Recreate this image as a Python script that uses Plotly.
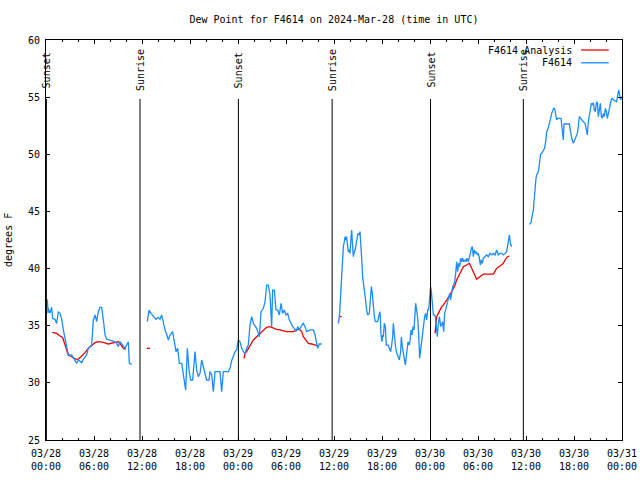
import plotly.graph_objects as go
import pandas as pd

start = pd.Timestamp("2024-03-28 00:00")
end = pd.Timestamp("2024-03-31 00:00")

# F4614 observations: hours since 2024-03-28 00:00 UTC, dew point in deg F (None = gap)
blue_hours = [
    0.17, 0.25, 0.29, 0.5, 0.71, 0.83, 1.13, 1.33, 1.54, 1.75, 1.96, 2.17, 2.38, 2.58, 2.79,
    3.21, 3.42, 3.83, 4.04, 4.46, 4.67, 5.08, 5.29, 5.5, 5.71, 5.92, 6.13, 6.33, 6.54, 6.75,
    6.96, 7.17, 7.38, 7.58, 8.0, 8.42, 8.83, 9.04, 9.25, 9.67, 9.88, 10.08, 10.29, 10.42, 10.71,
    None,
    12.67, 12.88, 13.13, 13.42, 13.75, 14.04, 14.25, 14.46, 14.67, 14.88, 15.08, 15.29, 15.5,
    15.83, 16.04, 16.25, 16.46, 16.67, 16.96, 17.25, 17.46, 17.67, 17.88, 18.08, 18.33, 18.63,
    18.83, 19.04, 19.25, 19.46, 19.67, 19.88, 20.08, 20.38, 20.5, 20.71, 20.92, 21.13, 21.75,
    21.96, 22.17, 22.79, 23.0, 23.21, 23.63, 23.83, 24.04, 24.25, 24.46, 24.67, 24.88, 25.08,
    25.29, 25.5, 25.71, 25.92, 26.13, 26.33, 26.54, 26.67, 26.88, 27.17, 27.38, 27.58, 27.79,
    28.0, 28.21, 28.33, 28.54, 28.75, 28.96, 29.17, 29.38, 29.58, 29.79, 30.0, 30.21, 30.42,
    30.63, 30.83, 31.04, 31.25, 31.46, 31.67, 31.88, 32.17, 32.38, 32.58, 33.0, 33.42, 33.63,
    33.83, 33.96, 34.17, 34.46,
    None,
    36.54, 36.67, 36.75, 36.88, 37.0, 37.08, 37.17, 37.29, 37.38, 37.5, 37.58, 37.71, 37.79,
    37.92, 38.0, 38.13, 38.21, 38.33, 38.42, 38.54, 38.63, 38.75, 38.83, 38.96, 39.04, 39.17,
    39.25, 39.38, 39.46, 39.58, 39.79, 39.92, 40.08, 40.21, 40.42, 40.54, 40.67, 40.79, 40.92,
    41.04, 41.17, 41.46, 41.58, 41.75, 41.88, 42.0, 42.08, 42.17, 42.29, 42.42, 42.54, 42.79,
    42.92, 43.08, 43.21, 43.33, 43.42, 43.54, 43.67, 43.79, 43.92, 44.04, 44.17, 44.33, 44.42,
    44.54, 44.67, 44.79, 44.92, 45.04, 45.17, 45.25, 45.38, 45.5, 45.63, 45.75, 45.88, 46.0,
    46.13, 46.21, 46.33, 46.46, 46.58, 46.71, 46.83, 46.96, 47.08, 47.21, 47.33, 47.46, 47.58,
    47.71, 47.83, 47.96, 48.08, 48.17, 48.29, 48.42, 48.54, 48.67, 48.79, 48.92, 49.04, 49.17,
    49.21, 49.33, 49.46, 49.58, 49.71, 49.83, 49.96, 50.08, 50.21, 50.33, 50.46, 50.58, 50.71,
    50.83, 50.96, 51.08, 51.21, 51.33, 51.46, 51.58, 51.71, 51.83, 51.96, 52.08, 52.21, 52.38,
    52.5, 52.63, 52.79, 52.92, 53.04, 53.17, 53.29, 53.42, 53.54, 53.67, 53.79, 53.92, 54.04,
    54.17, 54.29, 54.42, 54.54, 54.67, 54.88, 55.08, 55.29, 55.5, 55.71, 55.92, 56.13, 56.33,
    56.54, 56.75, 56.96, 57.17, 57.38, 57.58, 57.79, 57.92, 58.04, 58.21,
    None,
    60.42, 60.63, 60.75, 60.92, 61.0, 61.08, 61.17, 61.25, 61.33, 61.46, 61.58, 61.71, 61.83,
    61.96, 62.08, 62.21, 62.33, 62.46, 62.58, 62.71, 62.83, 62.96, 63.08, 63.21, 63.33, 63.46,
    63.58, 63.71, 63.83, 63.96, 64.38, 64.46, 64.58, 64.67, 64.75, 65.42, 65.5, 65.63, 65.75,
    65.92, 66.04, 66.21, 66.42, 66.54, 66.67, 66.83, 67.0, 67.17, 67.38, 67.5, 67.67, 67.79,
    67.92, 68.04, 68.17, 68.29, 68.42, 68.54, 68.67, 68.79, 68.92, 69.04, 69.17, 69.29, 69.42,
    69.54, 69.67, 69.79, 69.92, 70.04, 70.17, 70.29, 70.42, 70.54, 70.67, 70.79, 70.92, 71.33,
    71.46, 71.58, 71.71, 71.83, 71.96,
]
blue_vals = [
    37.3, 36.1, 36.5, 36.1, 36.6, 35.65, 35.56, 35.2, 36.23, 36.08, 35.56, 34.62, 33.75, 33.02, 32.44,
    32.44, 32.15, 31.71, 32.0, 31.77, 32.06, 32.44, 33.02, 33.17, 33.31, 35.5, 35.94, 35.35, 36.23, 36.6,
    36.6, 35.5, 34.19, 33.81, 33.75, 33.66, 33.46, 33.17, 33.6, 33.17, 33.02, 33.31, 33.6, 31.71, 31.62,
    None,
    35.35, 36.37, 36.08, 35.79, 35.56, 35.73, 35.56, 35.94, 35.21, 34.62, 34.27, 33.75, 34.19,
    34.48, 33.6, 32.73, 33.02, 31.71, 31.71, 30.25, 29.37, 33.02, 31.12, 30.25, 30.25, 32.73,
    31.12, 30.54, 30.83, 32.0, 31.42, 30.83, 30.25, 30.25, 30.98, 30.69, 29.23, 30.98, 30.98,
    29.23, 30.98, 30.98, 31.27, 31.95, 32.73, 32.87, 33.75, 33.6, 33.02, 32.73, 32.58, 33.02,
    33.31, 35.06, 35.79, 35.21, 34.92, 34.77, 34.33, 34.04, 36.23, 36.52, 37.1, 38.56, 38.56,
    37.69, 34.92, 38.12, 38.12, 36.38, 36.38, 35.94, 36.96, 36.08, 36.38, 35.94, 36.08, 35.5,
    35.21, 34.92, 34.77, 34.48, 34.92, 34.63, 34.92, 35.21, 34.92, 34.48, 34.63, 34.63, 34.19,
    33.31, 33.02, 33.4, 33.4,
    None,
    35.21, 35.79, 36.67, 38.42, 40.17, 41.19, 41.92, 42.35, 42.79, 42.5, 42.79, 41.92, 41.48,
    41.63, 41.33, 42.79, 43.37, 41.92, 41.04, 41.48, 41.63, 42.06, 42.65, 42.94, 43.08, 42.94,
    43.23, 42.06, 40.9, 39.29, 38.27, 37.4, 36.38, 35.94, 36.08, 37.83, 38.42, 37.83, 36.67,
    35.79, 35.35, 35.35, 35.79, 36.23, 34.19, 33.6, 34.19, 34.04, 35.21, 34.92, 33.31, 33.31,
    33.02, 32.73, 33.31, 34.04, 35.21, 34.04, 33.31, 32.73, 32.44, 32.15, 32.0, 32.73, 34.04,
    33.17, 32.44, 32.0, 31.56, 32.29, 33.31, 33.6, 33.31, 33.6, 34.63, 34.19, 34.92, 34.63,
    36.08, 36.96, 36.38, 35.65, 34.33, 32.15, 32.87, 33.75, 34.63, 35.21, 35.79, 36.08, 35.5,
    36.38, 36.38, 37.4, 38.42, 37.98, 37.25, 35.94, 35.94, 35.79, 34.92, 34.04, 35.21, 35.79,
    35.65, 34.92, 35.21, 35.35, 34.48, 36.08, 36.38, 36.81, 37.1, 37.4, 37.83, 37.25, 38.13,
    38.42, 38.56, 38.85, 39.58, 40.6, 39.73, 40.46, 40.17, 40.9, 40.6, 40.9, 40.6, 40.75,
    40.6, 40.9, 40.6, 40.9, 41.33, 41.77, 41.92, 41.04, 41.63, 41.33, 41.48, 41.19, 41.33,
    40.9, 40.31, 40.75, 40.46, 40.9, 41.04, 41.19, 41.04, 41.33, 41.19, 41.33, 41.19, 41.63,
    41.19, 41.33, 41.33, 41.19, 41.33, 41.48, 42.35, 42.94, 42.21, 41.92,
    None,
    43.87, 44.02, 44.54, 45.12, 45.85, 46.73, 47.46, 47.9, 48.19, 48.33, 48.63, 49.21, 50.02,
    50.08, 50.23, 50.38, 50.52, 51.1, 51.98, 52.13, 52.42, 52.71, 53.15, 53.58, 53.88, 54.02,
    54.02, 53.58, 53.0, 53.15, 53.15, 52.56, 51.83, 51.25, 52.65, 52.65, 52.27, 51.69, 51.31,
    50.96, 51.19, 51.48, 51.83, 52.42, 53.29, 53.15, 52.94, 52.85, 52.71, 52.18, 51.69, 52.85,
    53.58, 53.73, 54.46, 54.31, 54.52, 53.88, 53.73, 54.46, 54.6, 53.29, 54.17, 54.46, 53.29,
    53.15, 53.58, 53.29, 54.02, 53.73, 53.15, 53.58, 54.17, 54.46, 54.81, 54.9, 54.75, 54.6,
    55.33, 55.63, 55.19, 54.75, 55.04,
]

# F4614 Analysis
red_hours = [
    0.79, 1.33, 1.75, 2.08, 2.25, 2.5, 2.79, 3.21, 3.63, 4.04, 4.46, 4.88, 5.29, 5.71, 6.13,
    6.54, 7.17, 7.79, 8.21, 8.63, 9.04, 9.33, 9.67, 10.0,
    None,
    12.6, 13.0,
    None,
    24.75, 24.88, 25.08, 25.29, 25.5, 25.71, 25.92, 26.33, 26.75, 27.17, 27.58, 28.0, 28.42,
    28.83, 29.25, 29.67, 30.08, 30.92, 31.33, 31.67, 31.96, 32.17, 32.58, 32.79, 33.21, 33.63, 33.96,
    None,
    36.75, 36.96,
    None,
    48.63, 48.83, 49.04, 49.25, 49.46, 49.67, 50.08, 50.5, 50.92, 51.13, 51.33, 51.54, 51.75,
    51.96, 52.17, 52.58, 52.92, 53.21, 53.5, 53.83, 54.25, 54.67, 55.92, 56.13, 56.33, 56.75,
    57.17, 57.38, 57.67, 57.92,
]
red_vals = [
    34.42, 34.33, 34.1, 33.98, 33.6, 33.02, 32.44, 32.29, 32.09, 32.06, 32.35, 32.64, 33.02, 33.31, 33.52,
    33.6, 33.55, 33.4, 33.46, 33.57, 33.6, 33.37, 33.02, 32.96,
    None,
    33.02, 33.02,
    None,
    32.14, 32.58, 32.73, 33.02, 33.31, 33.6, 33.75, 34.04, 34.33, 34.63, 34.86, 34.92, 34.77,
    34.68, 34.63, 34.57, 34.48, 34.48, 34.63, 34.68, 34.48, 34.04, 33.6, 33.46, 33.4, 33.31, 33.23,
    None,
    35.79, 35.79,
    None,
    34.33, 35.79, 36.08, 36.38, 36.67, 36.81, 37.25, 37.69, 38.27, 38.56, 39.0, 39.29, 39.58,
    39.88, 40.17, 40.31, 40.46, 40.02, 39.58, 39.06, 39.29, 39.52, 39.52, 39.73, 40.02, 40.23,
    40.46, 40.75, 41.04, 41.1,
]

sun_times = ["2024-03-28 00:03", "2024-03-28 11:45", "2024-03-29 00:03",
             "2024-03-29 11:46", "2024-03-30 00:04", "2024-03-30 11:40"]
sun_labels = ["Sunset", "Sunrise", "Sunset", "Sunrise", "Sunset", "Sunrise"]

tick_hours = [0, 6, 12, 18, 24, 30, 36, 42, 48, 54, 60, 66, 72]
tick_labels = ["03/28<br>00:00", "03/28<br>06:00", "03/28<br>12:00", "03/28<br>18:00",
               "03/29<br>00:00", "03/29<br>06:00", "03/29<br>12:00", "03/29<br>18:00",
               "03/30<br>00:00", "03/30<br>06:00", "03/30<br>12:00", "03/30<br>18:00",
               "03/31<br>00:00"]

series_names = ["F4614 Analysis", "F4614"]
series_colors = ["#ee0000", "#1a8cff"]


def to_time(hours):
    return [None if h is None else start + pd.Timedelta(hours=h) for h in hours]


FONT = "DejaVu Sans Mono"
FIG_W, FIG_H = 640, 480

fig = go.Figure()
fig.add_trace(go.Scatter(x=to_time(red_hours), y=red_vals, mode="lines",
                         line=dict(color=series_colors[0], width=1.3),
                         connectgaps=False, name=series_names[0], showlegend=False))
fig.add_trace(go.Scatter(x=to_time(blue_hours), y=blue_vals, mode="lines",
                         line=dict(color=series_colors[1], width=1.3),
                         connectgaps=False, name=series_names[1], showlegend=False))

for t, lab in zip(sun_times, sun_labels):
    fig.add_shape(type="line", xref="x", yref="paper", x0=t, x1=t, y0=0, y1=0.8525,
                  line=dict(color="black", width=1))
    fig.add_annotation(x=t, xref="x", y=0.925, yref="paper", text=lab, textangle=-90,
                       showarrow=False, xanchor="center", yanchor="middle", xshift=1,
                       font=dict(family=FONT, size=10, color="black"))

# legend (text then sample, as in the original)
legend_y = [0.975, 0.943]
for name, col, ly in zip(series_names, series_colors, legend_y):
    fig.add_annotation(x=0.9167, xref="paper", y=ly, yref="paper", text=name,
                       showarrow=False, xanchor="right", yanchor="middle",
                       font=dict(family=FONT, size=10, color="black"))
    fig.add_shape(type="line", xref="paper", yref="paper", x0=0.929, x1=0.977,
                  y0=ly, y1=ly, line=dict(color=col, width=1.3))

fig.add_annotation(x=-0.066, xref="paper", y=0.5, yref="paper", text="degrees F",
                   textangle=-90, showarrow=False, xanchor="center", yanchor="middle",
                   font=dict(family=FONT, size=10, color="black"))

fig.update_layout(
    width=FIG_W, height=FIG_H,
    margin=dict(l=46, r=18, t=40, b=40, autoexpand=False),
    paper_bgcolor="white", plot_bgcolor="white",
    font=dict(family=FONT, size=10, color="black"),
    title=dict(text="Dew Point for F4614 on 2024-Mar-28 (time in UTC)",
               x=0.5218, xanchor="center", y=1 - 19 / FIG_H, yanchor="middle",
               font=dict(family=FONT, size=10, color="black"), automargin=False),
    showlegend=False,
)
fig.update_xaxes(
    type="date", range=[start, end], automargin=False,
    tickmode="array", tickvals=to_time(tick_hours), ticktext=tick_labels,
    ticks="inside", ticklen=4, tickcolor="black", ticklabelstandoff=4,
    minor=dict(ticks="inside", ticklen=2, tickmode="linear", tick0=start,
               dtick=2 * 3600 * 1000, tickcolor="black"),
    showline=True, linecolor="black", linewidth=1, mirror="ticks",
    showgrid=False, zeroline=False,
    tickfont=dict(family=FONT, size=10, color="black"),
)
fig.update_yaxes(
    range=[25, 60], tickmode="linear", tick0=25, dtick=5, automargin=False,
    ticks="inside", ticklen=4, tickcolor="black", ticklabelstandoff=3,
    showline=True, linecolor="black", linewidth=1, mirror="ticks",
    showgrid=False, zeroline=False,
    tickfont=dict(family=FONT, size=10, color="black"),
)

# remove the page's default body margin so the 640x480 figure fills the window exactly
fig.write_html("out.html",
               config={"displayModeBar": False, "staticPlot": True},
               post_script="document.body.style.margin='0';document.body.style.overflow='hidden';")
